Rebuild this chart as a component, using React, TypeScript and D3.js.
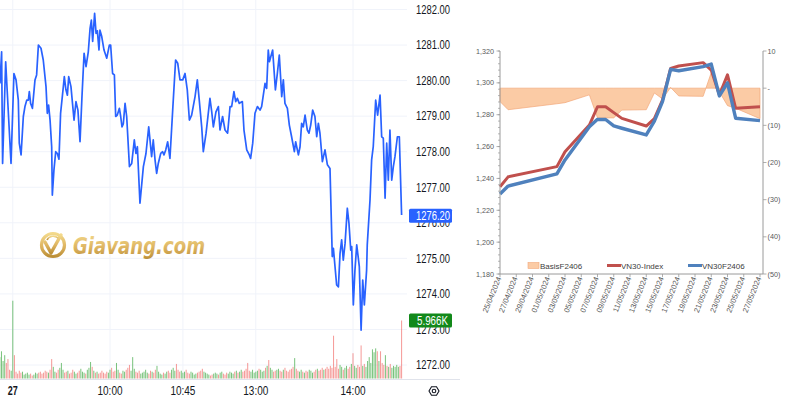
import React from 'react';
import * as d3 from 'd3';

// ---------- Left chart (intraday, 27/05) ----------
// session minutes after 09:00 (lunch break removed: 11:30 == 13:00 == 150)
const priceMinutes = [-7.9, -6.9, -6.3, -4.4, -1.1, 0.7, 2.0, 3.4, 4.0, 5.1, 6.5, 7.5, 8.6, 9.6, 10.2, 11.0, 12.1, 13.7, 14.7, 15.8, 17.4, 18.8, 20.5, 21.3, 22.1, 23.0, 24.0, 24.4, 25.4, 26.5, 27.5, 28.5, 29.5, 31.2, 31.8, 32.8, 33.7, 34.5, 35.9, 37.8, 39.0, 40.2, 41.5, 42.7, 44.0, 45.2, 46.6, 47.7, 48.5, 49.3, 50.5, 51.4, 52.2, 53.2, 53.8, 54.9, 56.3, 58.0, 59.6, 60.4, 61.6, 62.7, 63.5, 64.5, 65.8, 66.6, 67.4, 68.2, 69.3, 70.3, 72.0, 73.4, 75.0, 76.0, 76.9, 78.5, 80.6, 82.2, 83.9, 85.7, 86.7, 87.8, 88.8, 89.8, 91.3, 92.5, 93.3, 94.4, 95.6, 97.0, 98.7, 100.5, 101.8, 103.2, 104.9, 106.3, 107.7, 109.0, 110.4, 112.5, 113.9, 115.1, 116.6, 117.6, 119.3, 121.7, 122.8, 123.8, 125.4, 126.9, 127.9, 129.5, 131.0, 132.6, 134.1, 135.1, 136.5, 137.6, 138.6, 139.8, 141.7, 142.7, 144.4, 146.0, 146.8, 148.1, 149.5, 151.0, 152.6, 153.6, 155.7, 156.7, 157.7, 158.4, 160.4, 162.1, 163.3, 164.5, 166.0, 167.0, 168.0, 169.5, 170.7, 172.1, 173.8, 174.6, 176.3, 177.3, 178.3, 179.3, 180.4, 181.8, 182.8, 183.9, 185.1, 186.5, 187.6, 188.6, 189.6, 191.1, 192.7, 194.2, 195.8, 197.2, 197.9, 199.9, 201.0, 202.0, 203.0, 204.0, 205.1, 206.5, 207.5, 208.6, 209.2, 210.2, 211.2, 212.3, 213.9, 215.0, 216.0, 217.0, 218.4, 218.8, 220.5, 221.5, 222.5, 224.0, 225.2, 226.7, 227.7, 228.7, 229.8, 230.8, 231.8, 232.8, 233.9, 234.9, 235.9, 237.4, 238.6, 240.0];
const priceValues = [1279.92, 1280.81, 1277.67, 1280.53, 1277.67, 1280.20, 1280.02, 1279.45, 1278.24, 1277.91, 1278.99, 1279.27, 1279.45, 1279.45, 1279.69, 1279.36, 1279.22, 1280.02, 1280.16, 1281.00, 1280.91, 1280.58, 1279.83, 1279.08, 1279.31, 1278.89, 1278.14, 1276.78, 1277.49, 1278.00, 1277.95, 1277.79, 1279.08, 1279.83, 1280.11, 1279.74, 1279.59, 1280.11, 1279.83, 1278.89, 1279.41, 1279.17, 1278.28, 1279.55, 1280.77, 1280.39, 1280.81, 1281.47, 1281.70, 1281.10, 1281.89, 1281.33, 1281.40, 1280.86, 1281.42, 1281.24, 1280.86, 1280.63, 1281.00, 1281.00, 1280.20, 1280.16, 1278.99, 1279.03, 1279.22, 1278.99, 1278.70, 1278.78, 1279.36, 1278.99, 1277.58, 1277.67, 1278.33, 1277.95, 1278.14, 1276.55, 1277.58, 1277.95, 1278.70, 1277.86, 1278.33, 1277.77, 1277.39, 1277.67, 1277.95, 1278.00, 1277.91, 1278.05, 1278.28, 1277.81, 1279.17, 1280.58, 1280.49, 1280.02, 1280.02, 1280.20, 1279.74, 1278.89, 1279.03, 1279.55, 1280.02, 1279.45, 1278.70, 1278.00, 1278.52, 1279.50, 1279.12, 1278.70, 1279.12, 1279.27, 1278.61, 1278.99, 1278.61, 1278.52, 1279.27, 1279.27, 1279.69, 1279.41, 1279.50, 1279.36, 1279.41, 1278.61, 1278.05, 1277.91, 1277.81, 1278.24, 1279.08, 1279.27, 1279.17, 1279.27, 1279.92, 1279.78, 1280.86, 1280.53, 1280.86, 1279.74, 1280.20, 1280.72, 1279.55, 1280.02, 1279.36, 1279.22, 1278.75, 1278.42, 1278.00, 1278.28, 1277.91, 1278.14, 1278.80, 1278.70, 1279.03, 1278.61, 1278.52, 1278.75, 1279.17, 1278.99, 1278.42, 1278.80, 1278.52, 1277.72, 1278.05, 1277.63, 1277.53, 1275.05, 1275.28, 1274.25, 1274.20, 1275.14, 1275.52, 1274.95, 1275.42, 1276.41, 1275.99, 1275.23, 1275.33, 1273.69, 1274.67, 1275.38, 1274.77, 1272.98, 1274.39, 1273.69, 1274.67, 1275.38, 1276.64, 1277.77, 1278.14, 1279.45, 1279.03, 1279.59, 1278.42, 1278.38, 1276.69, 1278.24, 1277.20, 1278.61, 1277.20, 1277.58, 1277.86, 1278.42, 1278.42, 1276.22];
const volumeStartMinute = -8;
const volumeValues = [
  2200, 2800, 1800, 2400, 1600, 2000, 900, 800,
  8000, 2400,
  700, 500, 800, 600, 700, 400, 500, 600, 400, 500,
  300, 400, 600, 500, 600, 700, 500, 600, 800, 700, 600, 900,
  2000,
  1200, 700, 600, 900, 1100,
  1600,
  900, 600, 700, 800, 500, 600, 900, 700, 500, 600, 800, 1000, 700, 600, 500, 900, 1100,
  1700,
  1200, 800, 600, 700, 500, 600, 800, 600, 500, 700, 600, 900, 1100, 700, 800,
  1600,
  900, 600, 500, 800, 700, 900, 1100,
  1400, 800, 2200,
  1000, 700, 600, 800, 500, 600, 700, 900, 600, 500, 800, 700, 600, 900,
  1300,
  700, 500, 400, 600, 500, 700, 800, 600, 900, 1100, 800,
  1500,
  900, 700, 800, 600, 700, 900, 600, 500, 700, 600, 400, 500, 600, 700, 800,
  1000,
  700, 600, 500, 400, 300, 400, 500, 600, 500, 400, 600, 700, 500, 400, 600, 500, 700, 600, 500, 700, 800, 600, 700, 900, 700, 800, 1000,
  1600,
  800, 700, 900, 600, 700, 800, 1000, 900, 700, 800, 1100, 1300,
  1900,
  1100, 900, 700, 800, 900, 1000, 800, 700, 900, 1100, 800, 700, 900, 1000, 1200,
  2100,
  1000, 800, 700, 900, 700, 600, 800, 700, 900, 800, 600, 700, 900, 1000, 800, 900, 1100, 900, 1000, 1200, 1000, 1300, 1100,
  4400, 1200, 2000,
  1000, 1400, 1200, 900, 1100, 1300, 1000, 1200, 1500,
  2600,
  1300, 1100, 1400, 1200,
  3400,
  1300, 1500, 1200, 1800, 2200, 1600,
  3000, 2700, 3100, 2800,
  1800, 2800, 1600, 1400, 2400,
  1300, 1200, 1500, 1100, 1300, 1200, 1400, 1200, 1300,
  5966,
];
const priceTicks = [1272, 1273, 1274, 1275, 1276, 1277, 1278, 1279, 1280, 1281, 1282];
const timeTickMinutes = [0, 60, 105, 150, 210];
const timeTickLabels = ['27', '10:00', '10:45', '13:00', '14:00'];
const lastPriceLabel = '1276.20';
const lastVolumeLabel = '5.966K';

// ---------- Right chart (daily) ----------
const tradeDates = ['2024-04-25', '2024-04-26', '2024-05-02', '2024-05-03', '2024-05-06', '2024-05-07', '2024-05-08', '2024-05-09', '2024-05-10', '2024-05-13', '2024-05-14', '2024-05-15', '2024-05-16', '2024-05-17', '2024-05-20', '2024-05-21', '2024-05-22', '2024-05-23', '2024-05-24', '2024-05-27'];
const vn30Index = [1234.8, 1241.0, 1247.4, 1256.8, 1273.5, 1285.0, 1285.0, 1281.3, 1277.7, 1272.9, 1277.5, 1289.2, 1309.1, 1310.6, 1312.7, 1308.0, 1292.4, 1305.0, 1284.0, 1285.0];
const vn30F2406 = [1230.2, 1235.2, 1242.8, 1251.6, 1272.5, 1277.1, 1277.0, 1273.0, 1271.5, 1267.3, 1276.0, 1288.2, 1308.5, 1307.6, 1310.2, 1311.8, 1291.8, 1300.0, 1277.8, 1276.3];
const basisF2406 = [-3.6, -5.8, -4.2, -3.9, -1.8, -8.0, -8.0, -8.0, -5.9, -5.8, -1.3, -2.9, 0.2, -2.1, -2.2, 4.2, -1.0, -4.7, -5.4, -8.2];
const leftAxisTicks = [1180, 1200, 1220, 1240, 1260, 1280, 1300, 1320];
const rightAxisTicks = [10, 0, -10, -20, -30, -40, -50];
const legendLabels = ['BasisF2406', 'VN30-Index', 'VN30F2406'];

const parseDate = d3.timeParse('%Y-%m-%d');
const fmtDate = d3.timeFormat('%d/%m/%Y');

export default function App() {
  // Left scales
  const xL = d3.scaleLinear().domain([0, 210]).range([12.8, 353]);
  const yL = d3.scaleLinear().domain([1272, 1282]).range([365, 9.5]);
  const yV = d3.scaleLinear().domain([0, 5966]).range([0, 58]);
  const volBase = 378.5;

  const priceLine = d3
    .line<number>()
    .x((_, i) => xL(priceMinutes[i]))
    .y((v) => yL(v))
    .curve(d3.curveLinear);

  const volumeBars = volumeValues.map((v, i) => {
    const m = volumeStartMinute + i;
    let idx = d3.bisectLeft(priceMinutes, m);
    idx = Math.max(1, Math.min(priceMinutes.length - 1, idx));
    const up = priceValues[idx] >= priceValues[idx - 1];
    return { m, v, up };
  });

  // Right scales
  const dates = tradeDates.map((d) => parseDate(d) as Date);
  const d0 = dates[0];
  const d1 = dates[dates.length - 1];
  const xR = d3.scaleTime().domain([d0, d1]).range([500, 760]);
  const yR = d3.scaleLinear().domain([1180, 1320]).range([274, 51]);
  const yB = d3.scaleLinear().domain([-50, 10]).range([274, 51]);
  const xTicks = d3.range(0, 17).map((k) => d3.timeDay.offset(d0, 2 * k));
  const minorTicks = d3.range(1180, 1321, 4);

  const basisArea = d3
    .area<number>()
    .x((_, i) => xR(dates[i]))
    .y0(() => yB(0))
    .y1((v) => yB(v));
  const lineR = d3
    .line<number>()
    .x((_, i) => xR(dates[i]))
    .y((v) => yR(v));

  const rightLabel = (v: number) => (v > 0 ? String(v) : v === 0 ? '-' : `(${-v})`);

  const tvFont = "'Liberation Sans', Arial, sans-serif";
  const xlFont = "'Liberation Sans', Arial, sans-serif";

  return (
    <svg
      width={800}
      height={400}
      viewBox="0 0 800 400"
      style={{ position: 'absolute', left: 0, top: 0, background: '#fff' }}
    >
      <defs>
        <linearGradient id="gold" x1="0" y1="0" x2="0" y2="1">
          <stop offset="0%" stopColor="#F3D886" />
          <stop offset="55%" stopColor="#DDB25A" />
          <stop offset="100%" stopColor="#B98A2E" />
        </linearGradient>
      </defs>
      <rect x={0} y={0} width={800} height={400} fill="#fff" />

      {/* ---------- LEFT CHART ---------- */}
      <g>
        {priceTicks.map((t) => (
          <line key={'hg' + t} x1={0} x2={407} y1={yL(t)} y2={yL(t)} stroke="#F0F3FA" strokeWidth={1} />
        ))}
        {timeTickMinutes.map((m) => (
          <line key={'vg' + m} x1={xL(m)} x2={xL(m)} y1={0} y2={379} stroke="#F0F3FA" strokeWidth={1} />
        ))}
        <line x1={0} x2={460} y1={379.5} y2={379.5} stroke="#E0E3EB" strokeWidth={1} />

        {/* watermark */}
        <g opacity={0.95}>
          <circle cx={53} cy={245} r={11.5} fill="none" stroke="url(#gold)" strokeWidth={3.2} />
          <path d="M45,242 L51,253 L61,235" fill="none" stroke="url(#gold)" strokeWidth={3.4} strokeLinecap="round" strokeLinejoin="round" />
          <path d="M47,240 A7,7 0 0 1 58,238" fill="none" stroke="url(#gold)" strokeWidth={1.6} />
          <text
            x={73}
            y={254}
            fontFamily="'DejaVu Sans', Arial, sans-serif"
            fontWeight="bold"
            fontStyle="italic"
            fontSize={23}
            fill="url(#gold)"
            textLength={132}
            lengthAdjust="spacingAndGlyphs"
          >
            Giavang.com
          </text>
        </g>

        {volumeBars.map((b) => (
          <rect
            key={'v' + b.m}
            x={xL(b.m) - 0.5}
            y={volBase - yV(b.v)}
            width={1}
            height={yV(b.v)}
            fill={b.up ? 'rgba(76,175,80,0.75)' : 'rgba(239,83,80,0.6)'}
          />
        ))}

        <path d={priceLine(priceValues) || ''} fill="none" stroke="#2962FF" strokeWidth={1.7} strokeLinejoin="round" />

        {priceTicks.map((t) => (
          <text
            key={'pl' + t}
            x={416}
            y={yL(t) + 4.3}
            fontFamily={tvFont}
            fontSize={12}
            fill="#131722"
            textLength={34}
            lengthAdjust="spacingAndGlyphs"
          >
            {t.toFixed(2)}
          </text>
        ))}

        <rect x={409} y={yL(1276.2) - 7} width={43} height={14} rx={1.5} fill="#2962FF" />
        <text
          x={416}
          y={yL(1276.2) + 4.3}
          fontFamily={tvFont}
          fontSize={12}
          fill="#fff"
          textLength={34}
          lengthAdjust="spacingAndGlyphs"
        >
          {lastPriceLabel}
        </text>

        <rect x={409} y={volBase - yV(5966) - 7} width={43} height={14} rx={1.5} fill="#12891A" />
        <text
          x={417}
          y={volBase - yV(5966) + 4.3}
          fontFamily={tvFont}
          fontSize={12}
          fill="#fff"
          textLength={31}
          lengthAdjust="spacingAndGlyphs"
        >
          {lastVolumeLabel}
        </text>

        {timeTickMinutes.map((m, i) => (
          <text
            key={'tl' + m}
            x={xL(m)}
            y={395}
            textAnchor="middle"
            fontFamily={tvFont}
            fontSize={12}
            fontWeight={i === 0 ? 'bold' : 'normal'}
            fill="#131722"
            textLength={i === 0 ? 10 : 25}
            lengthAdjust="spacingAndGlyphs"
          >
            {timeTickLabels[i]}
          </text>
        ))}

        <g transform="translate(434,391)" fill="none" stroke="#131722" strokeWidth={1.1}>
          <polygon points="-5,0 -2.5,-4.3 2.5,-4.3 5,0 2.5,4.3 -2.5,4.3" />
          <circle r={1.8} />
        </g>
      </g>

      {/* ---------- RIGHT CHART ---------- */}
      <g fontFamily={xlFont}>
        <path d={basisArea(basisF2406) || ''} fill="#FBCBA5" stroke="#F2A77A" strokeWidth={0.7} />

        <path d={lineR(vn30Index) || ''} fill="none" stroke="#C0504D" strokeWidth={3} strokeLinejoin="round" />
        <path d={lineR(vn30F2406) || ''} fill="none" stroke="#4F81BD" strokeWidth={3.4} strokeLinejoin="round" />

        <line x1={500} x2={500} y1={51} y2={274} stroke="#9A9A9A" strokeWidth={1} />
        {minorTicks.map((t) => (
          <line key={'mt' + t} x1={498} x2={500} y1={yR(t)} y2={yR(t)} stroke="#9A9A9A" strokeWidth={0.7} />
        ))}
        {leftAxisTicks.map((t) => (
          <g key={'lt' + t}>
            <line x1={496.5} x2={500} y1={yR(t)} y2={yR(t)} stroke="#9A9A9A" strokeWidth={0.8} />
            <text x={494} y={yR(t) + 2.6} textAnchor="end" fontSize={7.2} fill="#595959">
              {d3.format(',')(t)}
            </text>
          </g>
        ))}

        <line x1={763} x2={763} y1={51} y2={274} stroke="#9A9A9A" strokeWidth={1} />
        {rightAxisTicks.map((t) => (
          <g key={'rt' + t}>
            <line x1={763} x2={766.5} y1={yB(t)} y2={yB(t)} stroke="#9A9A9A" strokeWidth={0.8} />
            <text x={767.5} y={yB(t) + 2.6} fontSize={7.2} fill="#595959">
              {rightLabel(t)}
            </text>
          </g>
        ))}

        <line x1={500} x2={763} y1={274} y2={274} stroke="#9A9A9A" strokeWidth={1} />
        {xTicks.map((d, i) => (
          <g key={'xt' + i}>
            <line x1={xR(d)} x2={xR(d)} y1={274} y2={277} stroke="#9A9A9A" strokeWidth={0.8} />
            <text
              transform={`translate(${xR(d) + 1.5},${278}) rotate(-68)`}
              textAnchor="end"
              fontSize={7.6}
              fill="#595959"
            >
              {fmtDate(d)}
            </text>
          </g>
        ))}

        <g fontSize={8} fill="#404040">
          <rect x={528} y={262.5} width={11} height={6} fill="#FBCBA5" stroke="#F2A77A" strokeWidth={0.6} />
          <text x={540} y={268.5}>{legendLabels[0]}</text>
          <line x1={607} x2={621} y1={265.5} y2={265.5} stroke="#C0504D" strokeWidth={3} />
          <text x={621} y={268.5}>{legendLabels[1]}</text>
          <line x1={688} x2={702} y1={265.5} y2={265.5} stroke="#4F81BD" strokeWidth={3} />
          <text x={702} y={268.5}>{legendLabels[2]}</text>
        </g>
      </g>
    </svg>
  );
}
